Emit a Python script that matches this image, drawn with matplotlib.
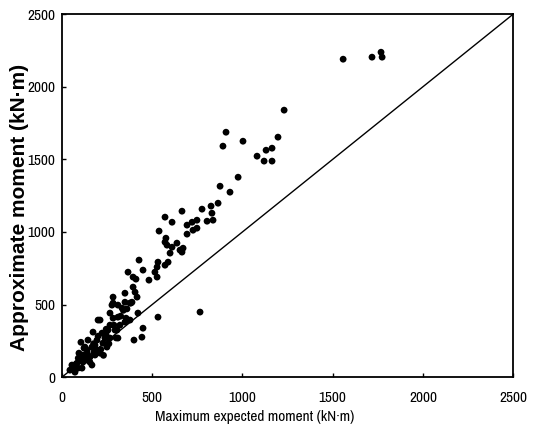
import numpy as np
import matplotlib
matplotlib.use("Agg")
import matplotlib.pyplot as plt
from matplotlib import font_manager

# (kN*m)
max_expected = [
    1558, 1718, 1768, 1774, 1231, 1197, 1164, 1164, 1131, 1081, 1120,
    909, 892, 1003, 976, 876, 931, 865, 826, 831, 776, 837, 804,
    665, 571, 610, 693, 721, 748, 748, 726, 538, 693, 576, 571, 582,
    610, 637, 654, 671, 599, 665, 532, 527, 515, 571, 588,
    427, 449, 366, 394, 410, 482, 527, 394, 405, 416, 349, 283,
    421, 449, 443, 399, 377, 382, 200, 532, 765,
    310, 277, 349, 388, 355,
    283, 377, 333, 266, 211, 283, 310, 266, 172, 222, 305, 310, 266,
    227, 194, 166, 139, 194, 249, 211, 116, 155, 100, 83, 116, 61, 72,
    111, 44, 55, 127, 183, 238, 144, 349, 321, 294, 255, 183, 155, 89,
    166, 133, 122, 150, 177, 105, 94, 78, 66, 200, 244, 288, 230,
    260, 300, 215, 175, 140, 120, 90, 70, 245, 325, 340, 360,
]
approx_moment = [
    2190, 2204, 2238, 2204, 1839, 1653, 1577, 1488, 1563, 1522, 1488,
    1687, 1591, 1625, 1377, 1315, 1274, 1198, 1178, 1129, 1157, 1081, 1074,
    1143, 1102, 1067, 1047, 1067, 1081, 1026, 1012, 1006, 985, 957, 930, 909,
    895, 923, 875, 888, 854, 861, 792, 758, 723, 771, 792,
    806, 737, 723, 689, 675, 668, 689, 620, 585, 551, 578, 551,
    441, 337, 275, 255, 393, 510, 393, 413, 448,
    496, 496, 516, 516, 406,
    510, 510, 475, 441, 393, 406, 413, 358, 310, 303, 324, 269, 269,
    234, 255, 207, 186, 186, 207, 165, 152, 138, 117, 96, 103, 69, 34,
    62, 48, 83, 207, 220, 269, 255, 379, 358, 324, 324, 152, 103, 62,
    83, 117, 200, 131, 172, 240, 165, 90, 55, 282, 296, 358, 150,
    230, 270, 190, 230, 160, 130, 130, 75, 330, 420, 460, 470,
]
ticks = [0, 500, 1000, 1500, 2000, 2500]

# pick a condensed face if one is installed
narrow = None
for f in font_manager.fontManager.ttflist:
    if "Narrow" in f.name or "Condensed" in f.name:
        narrow = f.name
        break
    if str(f.stretch) in ("condensed", "semi-condensed") and "DejaVu" in f.name:
        narrow = f.name
if narrow is None:
    narrow = "Liberation Sans"
    lab_size, tick_size = 9.5, 10
else:
    lab_size, tick_size = 11, 11

fig = plt.figure(figsize=(5.39, 4.30), dpi=100)
ax = fig.add_axes([0.115, 0.123, 0.837, 0.844])

ax.scatter(max_expected, approx_moment, s=24, c="black", edgecolors="none", zorder=3)
ax.plot([0, 2500], [0, 2500], color="black", lw=1.0)

ax.set_xlim(0, 2500)
ax.set_ylim(0, 2500)
ax.set_xticks(ticks)
ax.set_yticks(ticks)
ax.set_xticklabels([str(t) for t in ticks], family=narrow, fontsize=tick_size)
ax.set_yticklabels([str(t) for t in ticks], family=narrow, fontsize=tick_size)
ax.tick_params(axis="x", direction="in", length=3, width=1, pad=10)
ax.tick_params(axis="y", direction="in", length=3, width=1, pad=5)
for sp in ax.spines.values():
    sp.set_linewidth(1.3)

ax.set_xlabel("Maximum expected moment (kN·m)", family=narrow, fontsize=lab_size)
ax.xaxis.set_label_coords(0.428, -0.09)
ax.set_ylabel("Approximate moment (kN·m)", family="Liberation Sans", fontsize=15,
              fontweight="bold")
ax.yaxis.set_label_coords(-0.074, 0.468)

fig.savefig("out.png", dpi=100)
